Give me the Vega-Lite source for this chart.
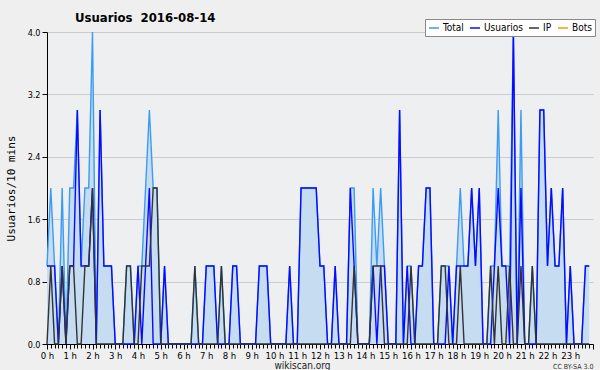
{
  "$schema": "https://vega.github.io/schema/vega-lite/v6.json",
  "autosize": {"type": "none"},
  "width": 546,
  "height": 312,
  "padding": {"left": 47, "top": 32, "right": 7, "bottom": 26},
  "background": "#EFEFEF",
  "title": {"text": "Usuarios\u00a0\u00a02016-08-14", "anchor": "start", "frame": "group", "dx": 28, "offset": -6, "font": "DejaVu Sans Condensed", "fontSize": 13, "fontWeight": "bold", "color": "#000"},
  "config": {"view": {"stroke": null, "fill": "#EEEFF1"}, "font": "DejaVu Sans"},
  "data": {"values": [
    {"t":0,"Usuarios":1,"IP":0,"Total":1},{"t":10,"Usuarios":1,"IP":1,"Total":2},{"t":20,"Usuarios":1,"IP":0,"Total":1},{"t":30,"Usuarios":0,"IP":0,"Total":0},
    {"t":40,"Usuarios":1,"IP":1,"Total":2},{"t":50,"Usuarios":0,"IP":0,"Total":0},{"t":60,"Usuarios":1,"IP":1,"Total":2},{"t":70,"Usuarios":1,"IP":1,"Total":2},
    {"t":80,"Usuarios":3,"IP":0,"Total":3},{"t":90,"Usuarios":1,"IP":0,"Total":1},{"t":100,"Usuarios":1,"IP":1,"Total":2},{"t":110,"Usuarios":1,"IP":1,"Total":2},
    {"t":120,"Usuarios":2,"IP":2,"Total":4},{"t":130,"Usuarios":0,"IP":0,"Total":0},{"t":140,"Usuarios":3,"IP":0,"Total":3},{"t":150,"Usuarios":1,"IP":0,"Total":1},
    {"t":160,"Usuarios":1,"IP":0,"Total":1},{"t":170,"Usuarios":1,"IP":0,"Total":1},{"t":180,"Usuarios":0,"IP":0,"Total":0},{"t":190,"Usuarios":0,"IP":0,"Total":0},
    {"t":200,"Usuarios":0,"IP":0,"Total":0},{"t":210,"Usuarios":0,"IP":1,"Total":1},{"t":220,"Usuarios":0,"IP":1,"Total":1},{"t":230,"Usuarios":0,"IP":0,"Total":0},
    {"t":240,"Usuarios":1,"IP":0,"Total":1},{"t":250,"Usuarios":0,"IP":1,"Total":1},{"t":260,"Usuarios":1,"IP":1,"Total":2},{"t":270,"Usuarios":2,"IP":1,"Total":3},
    {"t":280,"Usuarios":0,"IP":2,"Total":2},{"t":290,"Usuarios":0,"IP":2,"Total":2},{"t":300,"Usuarios":0,"IP":0,"Total":0},{"t":310,"Usuarios":1,"IP":0,"Total":1},
    {"t":320,"Usuarios":0,"IP":0,"Total":0},{"t":330,"Usuarios":0,"IP":0,"Total":0},{"t":340,"Usuarios":0,"IP":0,"Total":0},{"t":350,"Usuarios":0,"IP":0,"Total":0},
    {"t":360,"Usuarios":0,"IP":0,"Total":0},{"t":370,"Usuarios":0,"IP":0,"Total":0},{"t":380,"Usuarios":0,"IP":0,"Total":0},{"t":390,"Usuarios":0,"IP":1,"Total":1},
    {"t":400,"Usuarios":0,"IP":0,"Total":0},{"t":410,"Usuarios":0,"IP":0,"Total":0},{"t":420,"Usuarios":1,"IP":0,"Total":1},{"t":430,"Usuarios":1,"IP":0,"Total":1},
    {"t":440,"Usuarios":1,"IP":0,"Total":1},{"t":450,"Usuarios":0,"IP":0,"Total":0},{"t":460,"Usuarios":0,"IP":1,"Total":1},{"t":470,"Usuarios":0,"IP":0,"Total":0},
    {"t":480,"Usuarios":0,"IP":0,"Total":0},{"t":490,"Usuarios":1,"IP":0,"Total":1},{"t":500,"Usuarios":1,"IP":0,"Total":1},{"t":510,"Usuarios":0,"IP":0,"Total":0},
    {"t":520,"Usuarios":0,"IP":0,"Total":0},{"t":530,"Usuarios":0,"IP":0,"Total":0},{"t":540,"Usuarios":0,"IP":0,"Total":0},{"t":550,"Usuarios":0,"IP":0,"Total":0},
    {"t":560,"Usuarios":1,"IP":0,"Total":1},{"t":570,"Usuarios":1,"IP":0,"Total":1},{"t":580,"Usuarios":1,"IP":0,"Total":1},{"t":590,"Usuarios":0,"IP":0,"Total":0},
    {"t":600,"Usuarios":0,"IP":0,"Total":0},{"t":610,"Usuarios":0,"IP":0,"Total":0},{"t":620,"Usuarios":0,"IP":0,"Total":0},{"t":630,"Usuarios":0,"IP":0,"Total":0},
    {"t":640,"Usuarios":1,"IP":0,"Total":1},{"t":650,"Usuarios":0,"IP":0,"Total":0},{"t":660,"Usuarios":0,"IP":0,"Total":0},{"t":670,"Usuarios":2,"IP":0,"Total":2},
    {"t":680,"Usuarios":2,"IP":0,"Total":2},{"t":690,"Usuarios":2,"IP":0,"Total":2},{"t":700,"Usuarios":2,"IP":0,"Total":2},{"t":710,"Usuarios":2,"IP":0,"Total":2},
    {"t":720,"Usuarios":1,"IP":0,"Total":1},{"t":730,"Usuarios":1,"IP":0,"Total":1},{"t":740,"Usuarios":0,"IP":0,"Total":0},{"t":750,"Usuarios":0,"IP":0,"Total":0},
    {"t":760,"Usuarios":1,"IP":0,"Total":1},{"t":770,"Usuarios":0,"IP":0,"Total":0},{"t":780,"Usuarios":0,"IP":0,"Total":0},{"t":790,"Usuarios":0,"IP":0,"Total":0},
    {"t":800,"Usuarios":2,"IP":0,"Total":2},{"t":810,"Usuarios":1,"IP":1,"Total":2},{"t":820,"Usuarios":0,"IP":0,"Total":0},{"t":830,"Usuarios":0,"IP":0,"Total":0},
    {"t":840,"Usuarios":0,"IP":0,"Total":0},{"t":850,"Usuarios":0,"IP":0,"Total":0},{"t":860,"Usuarios":1,"IP":1,"Total":2},{"t":870,"Usuarios":0,"IP":1,"Total":1},
    {"t":880,"Usuarios":1,"IP":1,"Total":2},{"t":890,"Usuarios":1,"IP":0,"Total":1},{"t":900,"Usuarios":0,"IP":0,"Total":0},{"t":910,"Usuarios":0,"IP":0,"Total":0},
    {"t":920,"Usuarios":0,"IP":0,"Total":0},{"t":930,"Usuarios":3,"IP":0,"Total":3},{"t":940,"Usuarios":0,"IP":0,"Total":0},{"t":950,"Usuarios":1,"IP":0,"Total":1},
    {"t":960,"Usuarios":0,"IP":1,"Total":1},{"t":970,"Usuarios":0,"IP":0,"Total":0},{"t":980,"Usuarios":1,"IP":0,"Total":1},{"t":990,"Usuarios":1,"IP":0,"Total":1},
    {"t":1000,"Usuarios":2,"IP":0,"Total":2},{"t":1010,"Usuarios":2,"IP":0,"Total":2},{"t":1020,"Usuarios":0,"IP":0,"Total":0},{"t":1030,"Usuarios":0,"IP":0,"Total":0},
    {"t":1040,"Usuarios":0,"IP":1,"Total":1},{"t":1050,"Usuarios":0,"IP":1,"Total":1},{"t":1060,"Usuarios":1,"IP":0,"Total":1},{"t":1070,"Usuarios":0,"IP":0,"Total":0},
    {"t":1080,"Usuarios":1,"IP":0,"Total":1},{"t":1090,"Usuarios":1,"IP":1,"Total":2},{"t":1100,"Usuarios":1,"IP":0,"Total":1},{"t":1110,"Usuarios":1,"IP":0,"Total":1},
    {"t":1120,"Usuarios":2,"IP":0,"Total":2},{"t":1130,"Usuarios":1,"IP":0,"Total":1},{"t":1140,"Usuarios":2,"IP":0,"Total":2},{"t":1150,"Usuarios":0,"IP":0,"Total":0},
    {"t":1160,"Usuarios":0,"IP":0,"Total":0},{"t":1170,"Usuarios":0,"IP":1,"Total":1},{"t":1180,"Usuarios":1,"IP":0,"Total":1},{"t":1190,"Usuarios":2,"IP":1,"Total":3},
    {"t":1200,"Usuarios":1,"IP":0,"Total":1},{"t":1210,"Usuarios":1,"IP":0,"Total":1},{"t":1220,"Usuarios":0,"IP":1,"Total":1},{"t":1230,"Usuarios":4,"IP":0,"Total":4},
    {"t":1240,"Usuarios":0,"IP":0,"Total":0},{"t":1250,"Usuarios":2,"IP":1,"Total":3},{"t":1260,"Usuarios":0,"IP":0,"Total":0},{"t":1270,"Usuarios":0,"IP":0,"Total":0},
    {"t":1280,"Usuarios":0,"IP":1,"Total":1},{"t":1290,"Usuarios":0,"IP":0,"Total":0},{"t":1300,"Usuarios":3,"IP":0,"Total":3},{"t":1310,"Usuarios":3,"IP":0,"Total":3},
    {"t":1320,"Usuarios":1,"IP":0,"Total":1},{"t":1330,"Usuarios":2,"IP":0,"Total":2},{"t":1340,"Usuarios":1,"IP":0,"Total":1},{"t":1350,"Usuarios":1,"IP":0,"Total":1},
    {"t":1360,"Usuarios":2,"IP":0,"Total":2},{"t":1370,"Usuarios":0,"IP":0,"Total":0},{"t":1380,"Usuarios":1,"IP":0,"Total":1},{"t":1390,"Usuarios":0,"IP":0,"Total":0},
    {"t":1400,"Usuarios":0,"IP":0,"Total":0},{"t":1410,"Usuarios":0,"IP":0,"Total":0},{"t":1420,"Usuarios":1,"IP":0,"Total":1},{"t":1430,"Usuarios":1,"IP":0,"Total":1}
  ]},
  "layer": [
    {
      "mark": {"type": "area", "color": "#C6DCF0", "opacity": 1},
      "encoding": {
        "x": {"field": "t", "type": "quantitative", "scale": {"domain": [0, 1440], "nice": false, "zero": false},
              "axis": {"orient": "bottom", "title": "CC BY-SA 3.0", "labels": false, "ticks": false, "domain": false, "grid": false,
                       "titleAnchor": "end", "titleFont": "DejaVu Sans Condensed", "titleFontSize": 7, "titleFontWeight": "normal", "titleColor": "#333", "titlePadding": 18}},
        "y": {"field": "Total", "type": "quantitative", "scale": {"domain": [0, 4], "nice": false},
              "axis": {"values": [0,0.2,0.4,0.6,0.8,1,1.2,1.4,1.6,1.8,2,2.2,2.4,2.6,2.8,3,3.2,3.4,3.6,3.8,4],
                       "labelExpr": "round(datum.value*10) % 8 == 0 ? format(datum.value, '.1f') : ''",
                       "gridColor": "#CCCCCC", "gridWidth": 1,
                       "gridOpacity": {"condition": {"test": "round(datum.value*10) % 8 == 0", "value": 1}, "value": 0},
                       "tickSize": {"condition": {"test": "round(datum.value*10) % 8 == 0", "value": 5}, "value": 3},
                       "tickColor": "#000", "domainColor": "#000", "labelColor": "#000", "labelFont": "DejaVu Sans Condensed", "labelFontSize": 9, "labelPadding": 2, "labelOverlap": false, "labelFlush": false,
                       "title": "Usuarios/10 mins", "titleFont": "DejaVu Sans Mono", "titleFontSize": 11, "titleFontWeight": "normal", "titleColor": "#000", "titlePadding": 11}}
      }
    },
    {
      "mark": {"type": "line", "strokeWidth": 1.4},
      "encoding": {
        "x": {"field": "t", "type": "quantitative",
              "axis": {"orient": "bottom", "values": [0,10,20,30,40,50,60,70,80,90,100,110,120,130,140,150,160,170,180,190,200,210,220,230,240,250,260,270,280,290,300,310,320,330,340,350,360,370,380,390,400,410,420,430,440,450,460,470,480,490,500,510,520,530,540,550,560,570,580,590,600,610,620,630,640,650,660,670,680,690,700,710,720,730,740,750,760,770,780,790,800,810,820,830,840,850,860,870,880,890,900,910,920,930,940,950,960,970,980,990,1000,1010,1020,1030,1040,1050,1060,1070,1080,1090,1100,1110,1120,1130,1140,1150,1160,1170,1180,1190,1200,1210,1220,1230,1240,1250,1260,1270,1280,1290,1300,1310,1320,1330,1340,1350,1360,1370,1380,1390,1400,1410,1420,1430,1440],
                       "labelExpr": "datum.value % 60 == 0 && datum.value < 1440 ? (datum.value/60) + ' h' : ''",
                       "labelOverlap": false, "labelFlush": false, "grid": false,
                       "tickSize": {"condition": {"test": "datum.value % 60 == 0", "value": 5}, "value": 4},
                       "tickColor": "#000", "domainColor": "#000", "labelColor": "#000", "labelFont": "DejaVu Sans Condensed", "labelFontSize": 9.5, "labelPadding": 1,
                       "title": "wikiscan.org", "titleFont": "DejaVu Sans Condensed", "titleFontSize": 10, "titleFontWeight": "normal", "titleColor": "#222", "titleX": 255, "titlePadding": 1}},
        "y": {"field": "Total", "type": "quantitative"},
        "color": {"datum": "Total", "type": "nominal",
                  "scale": {"domain": ["Total", "Usuarios", "IP", "Bots"], "range": ["#3A9CF5", "#0A0AFF", "#333333", "#FF9900"]},
                  "legend": {"orient": "none", "legendX": 378, "legendY": -13, "direction": "horizontal", "title": null,
                             "fillColor": "#FFFFFF", "strokeColor": "#888888", "padding": 3, "symbolType": "stroke", "symbolSize": 100,
                             "symbolStrokeWidth": 1.5, "labelFont": "DejaVu Sans Condensed", "labelFontSize": 10, "labelColor": "#000", "columnPadding": 3, "symbolOffset": 0, "labelOffset": 3}}
      }
    },
    {
      "mark": {"type": "line", "strokeWidth": 1.4},
      "encoding": {
        "x": {"field": "t", "type": "quantitative", "axis": null},
        "y": {"field": "Usuarios", "type": "quantitative"},
        "color": {"datum": "Usuarios", "type": "nominal"}
      }
    },
    {
      "mark": {"type": "line", "strokeWidth": 1.4},
      "encoding": {
        "x": {"field": "t", "type": "quantitative", "axis": null},
        "y": {"field": "IP", "type": "quantitative"},
        "color": {"datum": "IP", "type": "nominal"}
      }
    }
  ],
  "resolve": {"axis": {"x": "independent"}}
}
